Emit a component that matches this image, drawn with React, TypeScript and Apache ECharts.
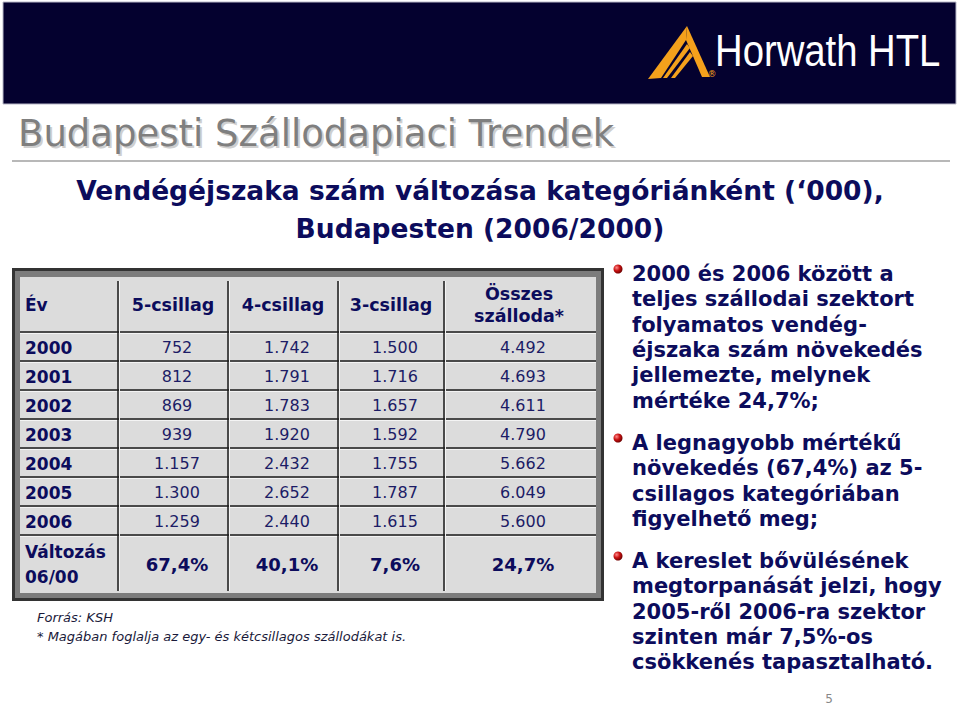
import React, { useEffect, useRef } from "react";
import * as echarts from "echarts";

const years = ["2000", "2001", "2002", "2003", "2004", "2005", "2006"];
const categories = ["5-csillag", "4-csillag", "3-csillag", "Összes\nszálloda*"];
const fiveStar = [752, 812, 869, 939, 1157, 1300, 1259];
const fourStar = [1742, 1791, 1783, 1920, 2432, 2652, 2440];
const threeStar = [1500, 1716, 1657, 1592, 1755, 1787, 1615];
const totalHotels = [4492, 4693, 4611, 4790, 5662, 6049, 5600];
const changePct = ["67,4%", "40,1%", "7,6%", "24,7%"];
const changeLabel = "Változás\n06/00";
const yearLabel = "Év";

const pageTitle = "Budapesti Szállodapiaci Trendek";
const subtitleLines = ["Vendégéjszaka szám változása kategóriánként (‘000),", "Budapesten (2006/2000)"];
const sourceNote = "Forrás: KSH";
const starNote = "* Magában foglalja az egy- és kétcsillagos szállodákat is.";
const bullets = [
  ["2000 és 2006 között a", "teljes szállodai szektort", "folyamatos vendég-", "éjszaka szám növekedés", "jellemezte, melynek", "mértéke 24,7%;"],
  ["A legnagyobb mértékű", "növekedés (67,4%) az 5-", "csillagos kategóriában", "figyelhető meg;"],
  ["A kereslet bővülésének", "megtorpanását jelzi, hogy", "2005-ről 2006-ra szektor", "szinten már 7,5%-os", "csökkenés tapasztalható."],
];
const pageNumber = "5";

const fmt = (n: number) =>
  n >= 1000 ? Math.floor(n / 1000) + "." + String(n % 1000).padStart(3, "0") : String(n);

const FONT = '"DejaVu Sans", Verdana, sans-serif';
const NAVY = "#0c0c5c";

function buildGraphic() {
  const els: any[] = [];
  // header band
  els.push({ type: "rect", shape: { x: 3, y: 2, width: 953, height: 102 }, style: { fill: "#04012f", stroke: "#b8b8c8", lineWidth: 1 } });
  // logo
  const orange = "#f4a11c";
  els.push({ type: "polygon", shape: { points: [[687, 26], [710, 77], [702, 77], [686, 40]] }, style: { fill: orange } });
  els.push({ type: "polygon", shape: { points: [[687, 26], [686, 40], [661, 78], [648, 79]] }, style: { fill: orange } });
  els.push({ type: "polygon", shape: { points: [[687, 44], [690, 48], [667, 78], [663, 78]] }, style: { fill: orange } });
  els.push({ type: "polygon", shape: { points: [[690, 52], [693, 56], [675, 78], [671, 78]] }, style: { fill: orange } });
  els.push({ type: "text", style: { x: 712, y: 74, text: "®", font: `9px ${FONT}`, fill: orange, textAlign: "center", textVerticalAlign: "middle" } });
  els.push({ type: "text", x: 715, y: 51, scaleX: 0.87, style: { x: 0, y: 0, text: "Horwath HTL", font: '44px "Liberation Sans Narrow", "Liberation Sans", Arial, sans-serif', fill: "#ffffff", textAlign: "left", textVerticalAlign: "middle" } });

  // title with soft shadow (drawn as an offset copy, silent for the text check)
  els.push({ type: "text", silent: true, style: { x: 20, y: 135, text: pageTitle, font: `37px ${FONT}`, fill: "#cfcfcf", textAlign: "left", textVerticalAlign: "middle" } });
  els.push({ type: "text", style: { x: 18, y: 133, text: pageTitle, font: `37px ${FONT}`, fill: "#7f7f7f", textAlign: "left", textVerticalAlign: "middle" } });
  els.push({ type: "line", shape: { x1: 12, y1: 161, x2: 950, y2: 161 }, style: { stroke: "#a0a0a0", lineWidth: 1.5 } });

  // subtitle
  subtitleLines.forEach((t, i) => {
    els.push({ type: "text", style: { x: 480, y: 190 + i * 38, text: t, font: `bold 26.5px ${FONT}`, fill: NAVY, textAlign: "center", textVerticalAlign: "middle" } });
  });

  // table frame
  els.push({ type: "rect", shape: { x: 12, y: 268, width: 592, height: 333 }, style: { fill: "#333333" } });
  els.push({ type: "rect", shape: { x: 15, y: 271, width: 586, height: 327 }, style: { fill: "#7c7c7c" } });
  els.push({ type: "rect", shape: { x: 20, y: 277, width: 576, height: 316 }, style: { fill: "#dcdcdc" } });

  const vLines = [118, 228, 338, 444];
  const colCenters = [173, 283, 391, 519];
  const headerTop = 278, headerBottom = 332, rowH = 29;
  const lastRowBottom = headerBottom + rowH * years.length;
  for (let k = 0; k <= years.length; k++) {
    const y = headerBottom + rowH * k;
    els.push({ type: "line", shape: { x1: 20, y1: y, x2: 596, y2: y }, style: { stroke: "#1a1a1a", lineWidth: 1.5 } });
    els.push({ type: "line", shape: { x1: 20, y1: y + 1.5, x2: 596, y2: y + 1.5 }, style: { stroke: "#f4f4f4", lineWidth: 1 } });
  }
  vLines.forEach((x) => {
    els.push({ type: "line", shape: { x1: x, y1: headerTop + 3, x2: x, y2: 591 }, style: { stroke: "#1a1a1a", lineWidth: 1.5 } });
    els.push({ type: "line", shape: { x1: x + 1.5, y1: headerTop + 3, x2: x + 1.5, y2: 591 }, style: { stroke: "#f4f4f4", lineWidth: 1 } });
  });

  // header
  const hMid = (headerTop + headerBottom) / 2;
  els.push({ type: "text", style: { x: 25, y: hMid, text: yearLabel, font: `bold 17px ${FONT}`, fill: NAVY, textAlign: "left", textVerticalAlign: "middle" } });
  categories.forEach((c, i) => {
    els.push({ type: "text", style: { x: colCenters[i], y: hMid, text: c, font: `bold 17.5px ${FONT}`, lineHeight: 22, fill: NAVY, textAlign: "center", textVerticalAlign: "middle" } });
  });

  const cols = [fiveStar, fourStar, threeStar, totalHotels];
  years.forEach((yr, r) => {
    const yMid = headerBottom + rowH * r + rowH / 2 + 1;
    els.push({ type: "text", style: { x: 25, y: yMid, text: yr, font: `bold 17px ${FONT}`, fill: NAVY, textAlign: "left", textVerticalAlign: "middle" } });
    cols.forEach((arr, c) => {
      els.push({ type: "text", style: { x: colCenters[c] + 4, y: yMid, text: fmt(arr[r]), font: `16px ${FONT}`, fill: "#1c1c66", textAlign: "center", textVerticalAlign: "middle" } });
    });
  });
  const cMid = (lastRowBottom + 593) / 2;
  els.push({ type: "text", style: { x: 25, y: cMid, text: changeLabel, font: `bold 17px ${FONT}`, lineHeight: 25, fill: NAVY, textAlign: "left", textVerticalAlign: "middle" } });
  changePct.forEach((p, c) => {
    els.push({ type: "text", style: { x: colCenters[c] + 4, y: cMid, text: p, font: `bold 18px ${FONT}`, fill: NAVY, textAlign: "center", textVerticalAlign: "middle" } });
  });

  // notes
  els.push({ type: "text", style: { x: 37, y: 617, text: sourceNote, font: `italic 13px ${FONT}`, fill: "#1a1a3a", textAlign: "left", textVerticalAlign: "middle" } });
  els.push({ type: "text", style: { x: 37, y: 636, text: starNote, font: `italic 13px ${FONT}`, fill: "#1a1a3a", textAlign: "left", textVerticalAlign: "middle" } });

  // bullets
  const bulletTops = [274, 443, 561];
  bullets.forEach((lines, b) => {
    const y0 = bulletTops[b];
    els.push({ type: "circle", shape: { cx: 618, cy: y0 - 5, r: 4.5 }, style: { fill: new echarts.graphic.RadialGradient(0.35, 0.35, 0.7, [{ offset: 0, color: "#ff8a8a" }, { offset: 0.5, color: "#c81010" }, { offset: 1, color: "#6a0000" }]) } });
    lines.forEach((t, i) => {
      els.push({ type: "text", style: { x: 632, y: y0 + i * 25.3, text: t, font: `bold 21px ${FONT}`, fill: NAVY, textAlign: "left", textVerticalAlign: "middle" } });
    });
  });

  els.push({ type: "text", style: { x: 829, y: 699, text: pageNumber, font: `12px ${FONT}`, fill: "#888888", textAlign: "center", textVerticalAlign: "middle" } });
  return els;
}

export default function App() {
  const ref = useRef<HTMLDivElement>(null);
  useEffect(() => {
    if (!ref.current) return;
    const chart = echarts.init(ref.current, null, { renderer: "svg" });
    chart.setOption({
      animation: false,
      backgroundColor: "#ffffff",
      graphic: { elements: buildGraphic() },
    });
    return () => chart.dispose();
  }, []);
  return <div ref={ref} style={{ position: "fixed", left: 0, top: 0, width: 959, height: 708 }} />;
}
